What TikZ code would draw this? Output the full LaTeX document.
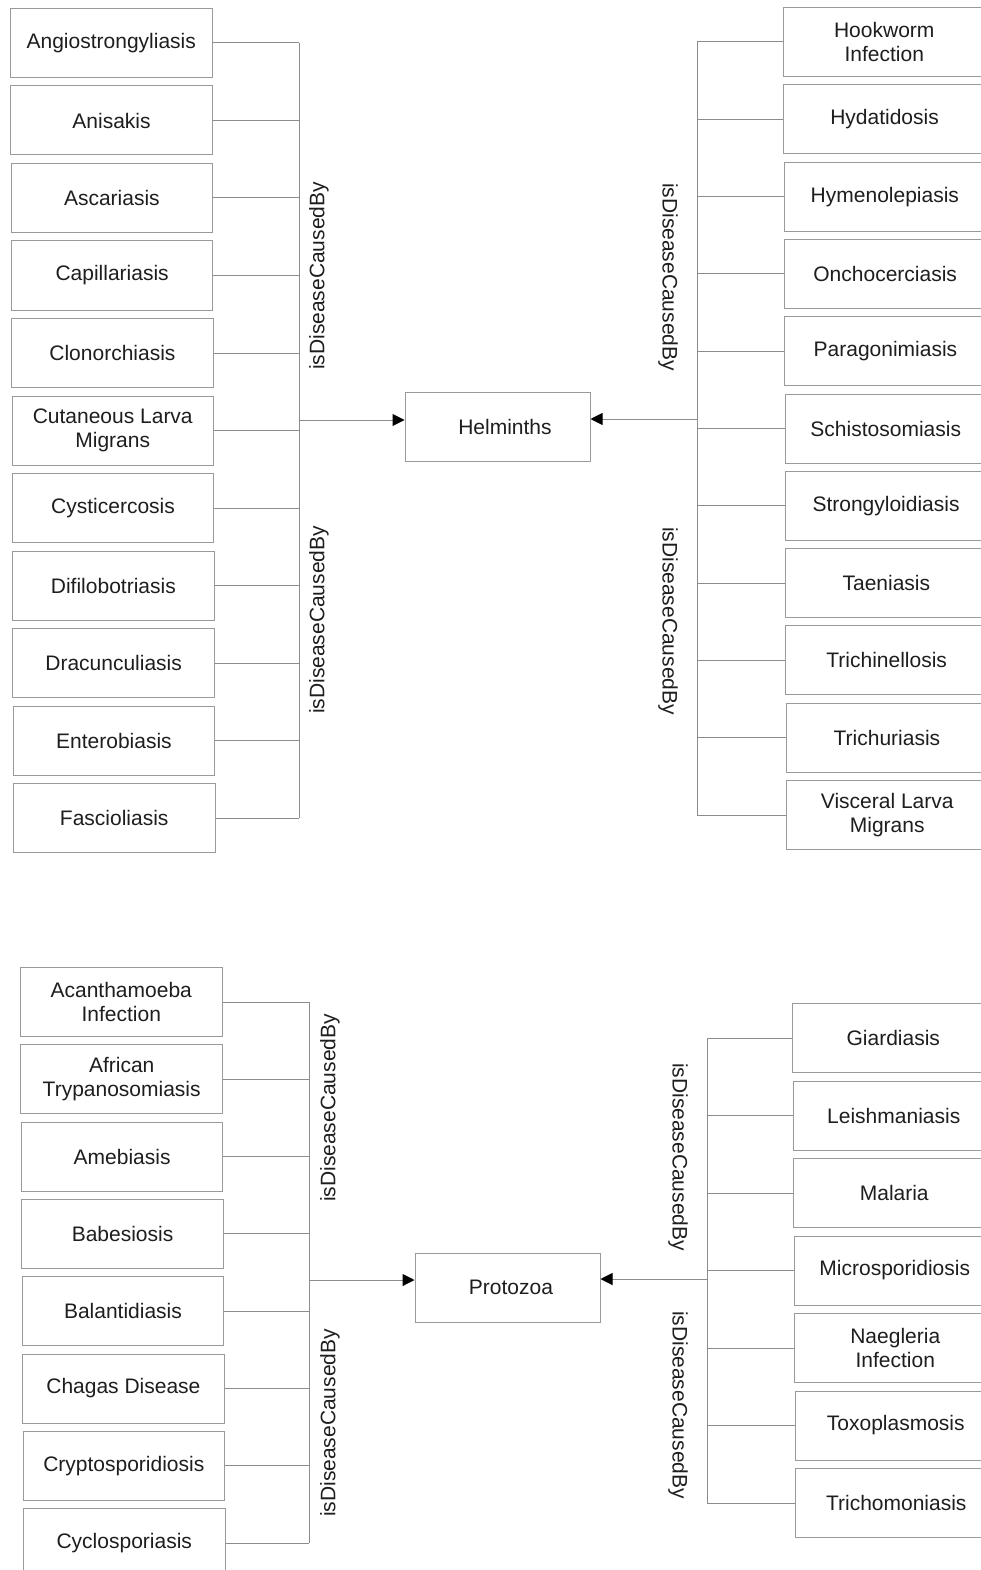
\documentclass[tikz,border=0pt]{standalone}
\usepackage{fontspec}
\setmainfont{Liberation Sans}
\usetikzlibrary{arrows.meta}
\definecolor{boxgray}{HTML}{9A9A9A}
\definecolor{linegray}{HTML}{8C8C8C}
\definecolor{textc}{HTML}{1E1E1E}
\begin{document}
\begin{tikzpicture}[x=1pt,y=-1pt,
  box/.style={draw=boxgray, line width=1pt, minimum width=201.5pt, minimum height=69pt, anchor=north west, align=center, inner sep=0pt, text=textc, font=\fontsize{21}{24}\selectfont},
  cbox/.style={box, anchor=center, minimum width=185pt},
  conn/.style={draw=linegray, line width=1pt},
  arr/.style={conn, -{Triangle[length=12pt,width=12pt,color=black]}},
  lbl/.style={font=\fontsize{21}{24}\selectfont, text=textc, inner sep=0pt}]
\fill[white] (0,0) rectangle (980,1570);
\useasboundingbox (0,0) rectangle (980,1570);

% ---------- Helminths ----------
\node[cbox] (helm) at (497.5,426.5) {\hspace*{15pt}Helminths};
\coordinate (hbL) at (299,0);
\coordinate (hbR) at (697,0);

\foreach \t [count=\i from 0] in {Angiostrongyliasis, Anisakis, Ascariasis, Capillariasis, Clonorchiasis, {Cutaneous Larva\\Migrans}, Cysticercosis, Difilobotriasis, Dracunculiasis, Enterobiasis, Fascioliasis}{
  \node[box] (hL\i) at ({10+0.3*\i},{8+77.5*\i}) {\t};
  \draw[conn] (hL\i.east) -- (hL\i.east -| hbL);
}
\draw[conn] (hL0.east -| hbL) -- (hL10.east -| hbL);

\foreach \t [count=\i from 0] in {{Hookworm\\Infection}, Hydatidosis, Hymenolepiasis, Onchocerciasis, Paragonimiasis, Schistosomiasis, Strongyloidiasis, Taeniasis, Trichinellosis, Trichuriasis, {Visceral Larva\\Migrans}}{
  \node[box] (hR\i) at ({783+0.3*\i},{7+77.3*\i}) {\t};
  \draw[conn] (hR\i.west) -- (hR\i.west -| hbR);
}
\draw[conn] (hR0.west -| hbR) -- (hR10.west -| hbR);

\coordinate (hinL) at ([yshift=6.5pt]helm.west);
\coordinate (hinR) at ([yshift=7.5pt]helm.east);
\draw[arr] (hbL |- hinL) -- (hinL);
\draw[arr] (hbR |- hinR) -- (hinR);

\node[lbl, rotate=90] (hl1) at (319,276) {isDiseaseCausedBy};
\node[lbl, rotate=90] (hl2) at (319,620) {isDiseaseCausedBy};
\node[lbl, rotate=-90] (hr1) at (668,277) {isDiseaseCausedBy};
\node[lbl, rotate=-90] (hr2) at (668,621) {isDiseaseCausedBy};

% ---------- Protozoa ----------
\node[cbox] (prot) at (507.5,1287.5) {\hspace*{7pt}Protozoa};
\coordinate (pbL) at (309,0);
\coordinate (pbR) at (707,0);

\foreach \t [count=\i from 0] in {{Acanthamoeba\\Infection}, {African\\Trypanosomiasis}, Amebiasis, Babesiosis, Balantidiasis, Chagas Disease, Cryptosporidiosis, Cyclosporiasis}{
  \node[box] (pL\i) at ({20+0.43*\i},{967+77.3*\i}) {\t};
  \draw[conn] (pL\i.east) -- (pL\i.east -| pbL);
}
\draw[conn] (pL0.east -| pbL) -- (pL7.east -| pbL);

\foreach \t [count=\i from 0] in {Giardiasis, Leishmaniasis, Malaria, Microsporidiosis, {Naegleria\\Infection}, Toxoplasmosis, Trichomoniasis}{
  \node[box] (pR\i) at ({792+0.5*\i},{1003+77.5*\i}) {\t};
  \draw[conn] (pR\i.west) -- (pR\i.west -| pbR);
}
\draw[conn] (pR0.west -| pbR) -- (pR6.west -| pbR);

\coordinate (pinL) at ([yshift=7.5pt]prot.west);
\coordinate (pinR) at ([yshift=8.5pt]prot.east);
\draw[arr] (pbL |- pinL) -- (pinL);
\draw[arr] (pbR |- pinR) -- (pinR);

\node[lbl, rotate=90] (pl1) at (330,1108) {isDiseaseCausedBy};
\node[lbl, rotate=90] (pl2) at (330,1423) {isDiseaseCausedBy};
\node[lbl, rotate=-90] (pr1) at (678,1157) {isDiseaseCausedBy};
\node[lbl, rotate=-90] (pr2) at (678,1405) {isDiseaseCausedBy};
\end{tikzpicture}
\end{document}
